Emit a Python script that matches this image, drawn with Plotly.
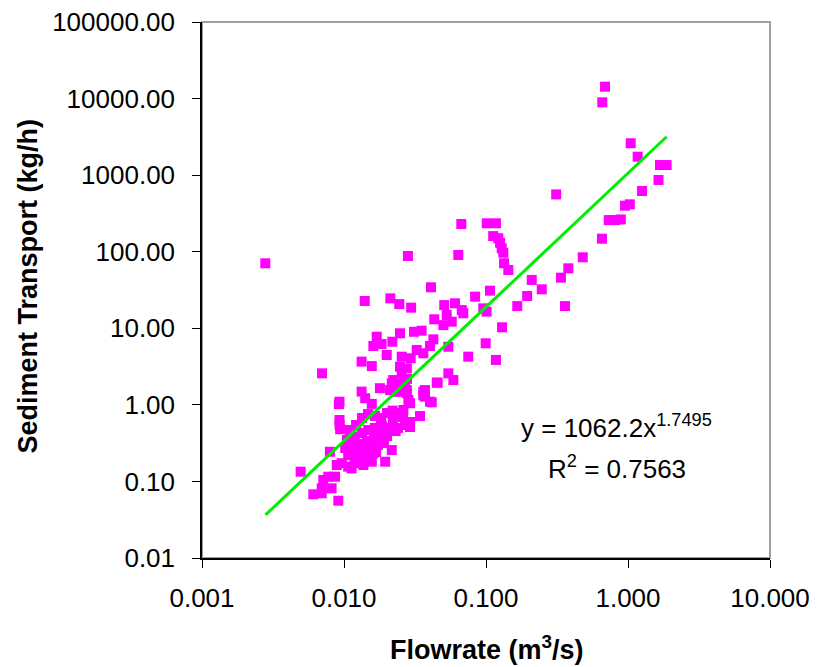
import plotly.graph_objects as go

# Flowrate (m3/s) and sediment transport (kg/h)
flow = [
    0.00279, 0.00495, 0.00608, 0.00697, 0.00697, 0.00818, 0.00715, 0.00775, 0.00865, 0.00912,
    0.00796, 0.0070, 0.0093, 0.0092, 0.0093, 0.0093, 0.0094, 0.00889, 0.00964, 0.0107,
    0.0113, 0.0123, 0.0137, 0.0157, 0.0161, 0.0195, 0.0217, 0.0231, 0.0133, 0.0141,
    0.0157, 0.0179, 0.0217, 0.0248, 0.0269, 0.0255, 0.0284, 0.0362, 0.0372, 0.0415,
    0.0343, 0.045, 0.0222, 0.0211, 0.0235, 0.0277, 0.0278,
    0.01101, 0.01216, 0.0134, 0.01477, 0.01653, 0.01822, 0.0201, 0.0221, 0.0240, 0.0260,
    0.0292, 0.0292, 0.0105, 0.0119, 0.0134, 0.0148, 0.0165, 0.0185, 0.0211, 0.0240,
    0.0269, 0.0102, 0.0114, 0.0130, 0.0145, 0.0163, 0.0179, 0.0201, 0.0107, 0.0122,
    0.0138, 0.0155, 0.0173, 0.0191, 0.0119, 0.0134, 0.0150, 0.0168, 0.0220, 0.0229,
    0.0277, 0.0292, 0.0362, 0.0403, 0.0262,
    0.0282, 0.041, 0.0140, 0.0212, 0.0245, 0.0297, 0.0508, 0.0605, 0.0675, 0.0692,
    0.0432, 0.0529, 0.0501, 0.0574, 0.0248, 0.0311, 0.0352, 0.0170, 0.0161, 0.0184,
    0.0219, 0.0426, 0.0403, 0.0325, 0.0362, 0.0200, 0.0133, 0.0157, 0.0255, 0.0295,
    0.0248, 0.0277, 0.0255, 0.0543, 0.0543, 0.0589, 0.0457, 0.0372,
    0.0638, 0.067, 0.1012, 0.1175, 0.1124, 0.122, 0.1256, 0.129, 0.1324, 0.134,
    0.1436, 0.0838, 0.1067, 0.101, 0.0957, 0.21, 0.247, 0.195, 0.166, 0.1297,
    0.0995, 0.1175, 0.075, 0.36, 0.337, 0.38, 0.48, 0.656, 0.312, 0.732,
    0.81, 0.89, 0.953, 1.03, 1.256, 1.64, 1.68, 1.87, 1.045, 1.17,
    0.659, 0.689,
]
sediment = [
    70.6, 0.134, 0.0679, 0.070, 0.0813, 0.0813, 0.1045, 0.1153, 0.1153, 0.056,
    0.244, 2.58, 1.1, 1.02, 0.634, 0.55, 0.48, 0.164, 0.173, 0.156,
    0.148, 0.173, 0.164, 0.181, 0.233, 0.181, 0.257, 0.455, 1.49, 1.22,
    1.03, 1.65, 1.91, 1.91, 2.0, 1.49, 1.16, 1.49, 1.28, 1.08,
    0.714, 1.95, 2.11, 1.56, 1.49, 1.56, 2.18,
    0.470, 0.546, 0.673, 0.759, 0.715, 0.673, 0.783, 0.634, 0.783, 0.694,
    0.597, 0.514, 0.348, 0.380, 0.429, 0.470, 0.499, 0.530, 0.499, 0.499,
    0.546, 0.273, 0.290, 0.308, 0.337, 0.369, 0.392, 0.392, 0.221, 0.235,
    0.257, 0.282, 0.299, 0.318, 0.196, 0.208, 0.221, 0.242, 0.841, 1.49,
    1.42, 1.05, 1.33, 1.10, 0.857,
    87.9, 34.3, 22.7, 24.6, 20.7, 18.6, 20.1, 21.2, 17.3, 15.7,
    13.1, 14.9, 11.0, 12.2, 8.6, 9.0, 9.3, 7.77, 5.87, 6.24,
    6.68, 7.17, 5.87, 5.2, 4.71, 4.48, 3.67, 3.21, 4.26, 4.06,
    3.15, 3.0, 2.58, 5.74, 2.58, 2.11, 1.95, 1.56,
    90.6, 230, 235, 235, 160, 150, 131, 111, 97, 70.6,
    57.7, 25.9, 31, 16.5, 18.2, 42.8, 32.3, 26.4, 19.5, 10.3,
    6.37, 3.86, 4.26, 19.5, 45.8, 60.7, 84.5, 148, 560, 259,
    259, 264, 399, 416, 621, 865, 1355, 1355, 2610, 1742,
    8930, 14300,
]

# Power trend line end points
trend_x = [0.0028, 1.87]
trend_y = [0.0365, 3170]

x_tickvals = [0.001, 0.01, 0.1, 1, 10]
x_ticktext = ["0.001", "0.010", "0.100", "1.000", "10.000"]
y_tickvals = [0.01, 0.1, 1, 10, 100, 1000, 10000, 100000]
y_ticktext = ["0.01", "0.10", "1.00", "10.00", "100.00", "1000.00", "10000.00", "100000.00"]

FONT = "Arial, 'Liberation Sans', Helvetica, sans-serif"

fig = go.Figure()
fig.add_trace(go.Scatter(
    x=flow, y=sediment, mode="markers",
    marker=dict(symbol="square", size=10, color="#FF00FF", line=dict(width=0)),
    showlegend=False,
))
fig.add_trace(go.Scatter(
    x=trend_x, y=trend_y, mode="lines",
    line=dict(color="#00EE00", width=3),
    showlegend=False,
))

axis_common = dict(
    showgrid=False, zeroline=False, showline=True, linecolor="black", linewidth=1.5,
    ticks="outside", ticklen=8, tickwidth=1, tickcolor="black",
    tickfont=dict(family=FONT, size=26, color="black"),
)
fig.update_xaxes(type="log", range=[-3, 1], tickvals=x_tickvals, ticktext=x_ticktext,
                 ticklabelstandoff=8, mirror=False, **axis_common)
fig.update_yaxes(type="log", range=[-2, 5], tickvals=y_tickvals, ticktext=y_ticktext,
                 ticklabelstandoff=12, mirror=False, **axis_common)

fig.add_shape(type="rect", xref="paper", yref="paper", x0=0, y0=0, x1=1, y1=1,
              line=dict(color="#A0A0A0", width=2), layer="below")

fig.add_annotation(text="<b>Flowrate (m<sup>3</sup>/s)</b>", xref="paper", yref="paper",
                   x=0.502, y=-0.168, showarrow=False, xanchor="center", yanchor="middle",
                   font=dict(family=FONT, size=27, color="black"))
fig.add_annotation(text="<b>Sediment Transport (kg/h)</b>", xref="paper", yref="paper",
                   x=-0.308, y=0.5065, showarrow=False, textangle=-90,
                   xanchor="center", yanchor="middle",
                   font=dict(family=FONT, size=27, color="black"))
fig.add_annotation(text="y = 1062.2x<sup>1.7495</sup>", xref="paper", yref="paper",
                   x=0.7306, y=0.245, showarrow=False, xanchor="center", yanchor="middle",
                   font=dict(family=FONT, size=26, color="black"))
fig.add_annotation(text="R<sup>2</sup> = 0.7563", xref="paper", yref="paper",
                   x=0.7306, y=0.168, showarrow=False, xanchor="center", yanchor="middle",
                   font=dict(family=FONT, size=26, color="black"))

fig.update_layout(
    width=817, height=667,
    margin=dict(l=202, r=47, t=22, b=109, autoexpand=False),
    paper_bgcolor="white", plot_bgcolor="white",
    font=dict(family=FONT, color="black"),
)

fig.write_html("out.html")
